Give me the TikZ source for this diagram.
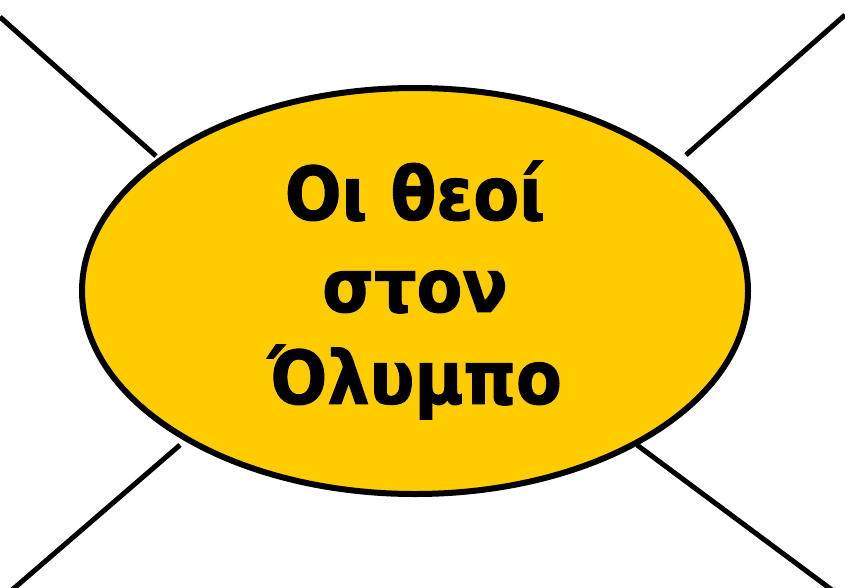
\documentclass[tikz,border=0pt]{standalone}
\usepackage{fontspec}
\setmainfont{DejaVu Sans Condensed}[BoldFeatures={FakeBold=1.5}]
\usetikzlibrary{shapes.geometric}
\definecolor{olympgold}{HTML}{FFCC00}
\tikzset{
  hub/.style={ellipse, draw=black, line width=6pt, fill=olympgold,
    minimum width=666pt, minimum height=406pt, inner sep=0pt},
  title/.style={align=center, font=\fontsize{74}{92}\selectfont\bfseries},
  spoke/.style={line width=5pt}
}
\begin{document}
\begin{tikzpicture}[x=1pt, y=-1pt]
    \useasboundingbox (0,0) rectangle (845,587);

    % Centre
    \node[hub] (hub) at (415,291) {};
    \node[title] (name) at (415,290) {Οι θεοί\\στον\\Όλυμπο};

    % Spokes
    \coordinate (tl0) at (0,17);    \coordinate (tl1) at (156,156);
    \coordinate (tr0) at (845,15);  \coordinate (tr1) at (686,155);
    \coordinate (bl0) at (12,590);  \coordinate (bl1) at (180,445);
    \coordinate (br0) at (832,590); \coordinate (br1) at (637,445);

    \draw[spoke] (tl0) -- (tl1);
    \draw[spoke] (tr0) -- (tr1);
    \draw[spoke] (bl0) -- (bl1);
    \draw[spoke] (br0) -- (br1);
\end{tikzpicture}
\end{document}
